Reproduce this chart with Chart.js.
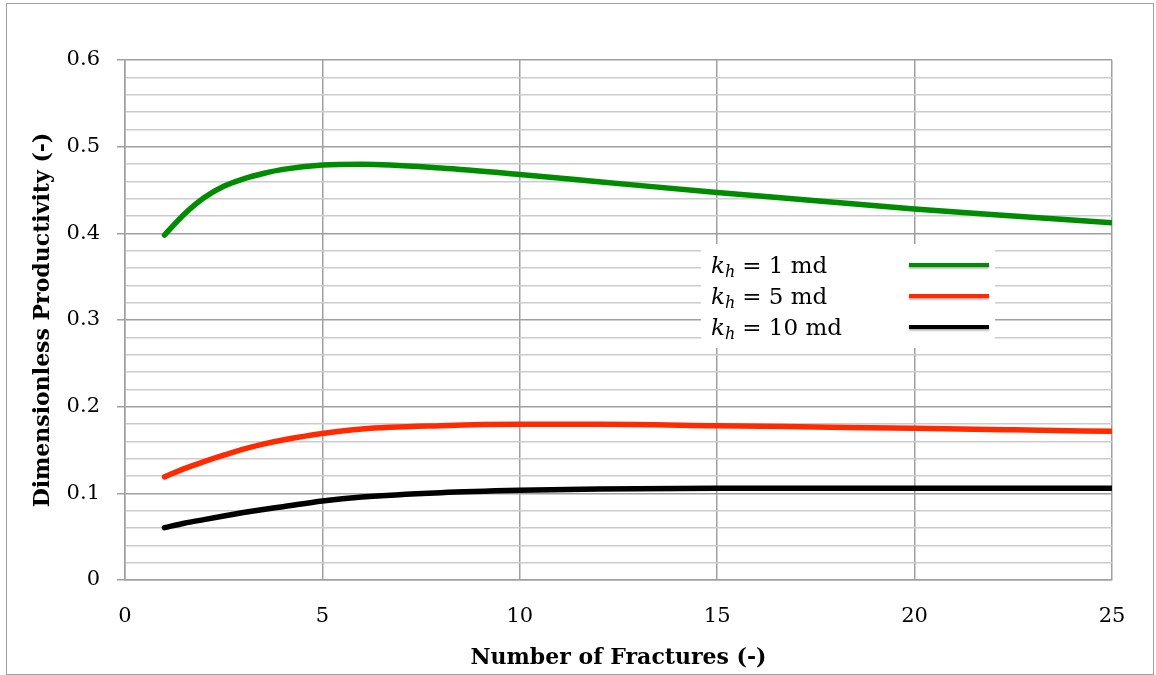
<!DOCTYPE html>
<html>
<head>
<meta charset="utf-8">
<script src="https://cdn.jsdelivr.net/npm/chart.js@4.4.0/dist/chart.umd.min.js"></script>
<style>
  html, body { margin: 0; padding: 0; background: #fff; }
  #wrap { width: 1156px; height: 675px; }
</style>
</head>
<body>
<div id="wrap"><canvas id="c" width="1156" height="675"></canvas></div>
<script>
// Number of fractures
const fractures = [1, 1.5, 2, 2.5, 3, 3.5, 4, 5, 6, 8, 10, 12, 15, 17.5, 20, 22.5, 25];
// Dimensionless productivity for each horizontal permeability
const kh1 = [0.398, 0.422, 0.441, 0.4543, 0.4628, 0.469, 0.4738, 0.4788, 0.4797, 0.4754, 0.468, 0.4596, 0.447, 0.4377, 0.428, 0.420, 0.4123];
const kh5 = [0.119, 0.1285, 0.1365, 0.144, 0.151, 0.1568, 0.1615, 0.169, 0.1742, 0.178, 0.1796, 0.1796, 0.178, 0.1765, 0.175, 0.1733, 0.1715];
const kh10 = [0.0604, 0.0655, 0.0697, 0.0738, 0.0778, 0.0814, 0.0846, 0.0912, 0.0958, 0.1008, 0.1035, 0.105, 0.1058, 0.1058, 0.1058, 0.1058, 0.1058];

const seriesLabels = ['1 md', '5 md', '10 md'];
const seriesColors = ['#008c00', '#ff2a00', '#000000'];
const seriesValues = [kh1, kh5, kh10];

const xTicks = [0, 5, 10, 15, 20, 25];
const yMajor = [0, 0.1, 0.2, 0.3, 0.4, 0.5, 0.6];
const yStep = 0.02;

const SERIF = '"DejaVu Serif", "Liberation Serif", serif';

function isMajor(v) {
  return yMajor.some(m => Math.abs(m - v) < 1e-6);
}

const datasets = seriesValues.map((vals, i) => ({
  label: seriesLabels[i],
  data: fractures.map((x, j) => ({ x: x, y: vals[j] })),
  borderColor: seriesColors[i],
  backgroundColor: seriesColors[i],
  borderWidth: 5.5,
  pointRadius: 0,
  cubicInterpolationMode: 'monotone',
  borderCapStyle: 'round',
  fill: false
}));

// Outer frame around the whole figure
const framePlugin = {
  id: 'frame',
  beforeDraw(chart) {
    const ctx = chart.ctx;
    ctx.save();
    ctx.fillStyle = '#fff';
    ctx.fillRect(0, 0, chart.width, chart.height);
    ctx.strokeStyle = '#a0a0a0';
    ctx.lineWidth = 1;
    ctx.strokeRect(6.5, 3.5, 1147, 671);
    ctx.restore();
  }
};

// Boxed legend with subscripted symbol
const legendPlugin = {
  id: 'mathLegend',
  beforeDatasetsDraw(chart) {
    const ctx = chart.ctx;
    const box = { x: 701, y: 244, w: 294, h: 104 };
    ctx.save();
    ctx.fillStyle = '#fff';
    ctx.fillRect(box.x, box.y, box.w, box.h);
    const baselines = [273, 304, 335];
    chart.data.datasets.forEach((ds, i) => {
      const by = baselines[i];
      let x = 711;
      ctx.fillStyle = '#000';
      ctx.textBaseline = 'alphabetic';
      ctx.textAlign = 'left';
      ctx.font = 'italic 23px ' + SERIF;
      ctx.fillText('k', x, by);
      x += ctx.measureText('k').width;
      ctx.font = 'italic 16px ' + SERIF;
      ctx.fillText('h', x, by + 4);
      x += ctx.measureText('h').width + 7;
      ctx.font = '23px ' + SERIF;
      ctx.fillText('= ' + ds.label, x, by);
      // sample line
      const ly = by - 8;
      ctx.shadowColor = 'rgba(0,0,0,0.35)';
      ctx.shadowBlur = 2;
      ctx.shadowOffsetY = 1.5;
      ctx.strokeStyle = ds.borderColor;
      ctx.lineWidth = 4;
      ctx.lineCap = 'butt';
      ctx.beginPath();
      ctx.moveTo(909, ly);
      ctx.lineTo(989, ly);
      ctx.stroke();
      ctx.shadowColor = 'transparent';
    });
    ctx.restore();
  }
};

new Chart(document.getElementById('c'), {
  type: 'line',
  data: { datasets: datasets },
  options: {
    responsive: false,
    animation: false,
    layout: { padding: { left: 0, top: 60, right: 44, bottom: 0 } },
    plugins: {
      legend: { display: false },
      tooltip: { enabled: false }
    },
    scales: {
      x: {
        type: 'linear',
        min: 0,
        max: 25,
        afterFit(scale) { scale.height = 95; },
        afterBuildTicks(scale) { scale.ticks = xTicks.map(v => ({ value: v })); },
        border: { color: '#a0a0a0', width: 1.5 },
        grid: { color: '#a0a0a0', lineWidth: 1.5, drawTicks: false },
        ticks: {
          padding: 24,
          autoSkip: false,
          color: '#000',
          font: { family: SERIF, size: 21 },
          maxRotation: 0
        },
        title: {
          display: true,
          text: 'Number of Fractures (-)',
          color: '#000',
          font: { family: SERIF, size: 22, weight: 'bold' },
          padding: { top: 0, bottom: 4 }
        }
      },
      y: {
        type: 'linear',
        min: 0,
        max: 0.6,
        afterFit(scale) { scale.width = 125; },
        afterBuildTicks(scale) {
          const n = Math.round(0.6 / yStep);
          const t = [];
          for (let i = 0; i <= n; i++) t.push({ value: Math.round(i * yStep * 100) / 100 });
          scale.ticks = t;
        },
        border: { color: '#a0a0a0', width: 1.5 },
        grid: {
          color: ctx => isMajor(ctx.tick.value) ? '#a0a0a0' : '#cccccc',
          lineWidth: 1.5,
          tickColor: ctx => isMajor(ctx.tick.value) ? '#a0a0a0' : 'rgba(0,0,0,0)',
          tickLength: 8
        },
        ticks: {
          autoSkip: false,
          padding: 17,
          color: '#000',
          font: { family: SERIF, size: 21 },
          callback: v => isMajor(v) ? (Math.round(v * 10) / 10).toString() : ''
        },
        title: {
          display: true,
          text: 'Dimensionless Productivity (-)',
          color: '#000',
          font: { family: SERIF, size: 22, weight: 'bold' },
          padding: { top: 30, bottom: 0 }
        }
      }
    }
  },
  plugins: [framePlugin, legendPlugin]
});
</script>
</body>
</html>
